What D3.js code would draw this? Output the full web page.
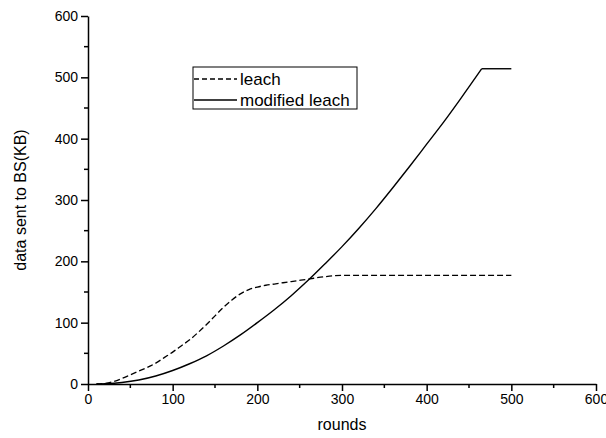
<!DOCTYPE html>
<html>
<head>
<meta charset="utf-8">
<script src="https://cdn.jsdelivr.net/npm/d3@7"></script>
<style>
  body { margin: 0; background: #fff; }
  svg { font-family: "Liberation Sans", Arial, sans-serif; }
</style>
</head>
<body>
<div id="chart"></div>
<script>
// data
const leachRounds = [10, 20, 30, 40, 50, 60, 70, 80, 90, 100, 110, 120, 130, 140, 150, 160, 170, 180, 190, 200, 210, 220, 240, 260, 280, 300, 500];
const leachData   = [0, 1, 4, 9, 15, 21, 27, 34, 43, 52, 62, 72, 84, 97, 111, 125, 137, 147, 154, 158, 161, 163, 167, 171, 175, 177, 177];

const modRounds = [10, 20, 40, 60, 80, 100, 120, 140, 160, 180, 200, 220, 240, 260, 280, 300, 320, 340, 360, 380, 400, 420, 440, 465, 500];
const modData   = [0, 0.5, 2.5, 6.5, 13, 22, 33, 46, 62, 80, 100, 121, 144, 169, 196, 224, 254, 286, 320, 355, 391, 427, 465, 514, 514];

const xTicks = [0, 100, 200, 300, 400, 500, 600];
const yTicks = [0, 100, 200, 300, 400, 500, 600];
const legendNames = ["leach", "modified leach"];

const width = 606, height = 438;
const margin = { top: 16, right: 10, bottom: 54, left: 88 };

const svg = d3.select("#chart").append("svg")
  .attr("width", width)
  .attr("height", height);

const x = d3.scaleLinear().domain([0, 600]).range([margin.left, 596]);
const y = d3.scaleLinear().domain([0, 600]).range([384, margin.top]);

// axes with major + minor ticks
function drawAxis(g, axisFn, scale, major) {
  const minor = d3.range(50, 600, 100);
  g.call(axisFn(scale).tickValues(major).tickSizeInner(7).tickSizeOuter(0).tickPadding(3));
  g.call(a => a.selectAll(".tick text").attr("font-size", 14).attr("fill", "#000").attr("font-family", "Liberation Sans, Arial, sans-serif"));
  g.select(".domain").attr("stroke-width", 1.5);
  g.selectAll(".tick line").attr("stroke-width", 1.5);
  return minor;
}

const xg = svg.append("g").attr("transform", `translate(0,${y(0)})`);
drawAxis(xg, d3.axisBottom, x, xTicks).forEach(v => {
  xg.append("line").attr("x1", x(v)).attr("x2", x(v)).attr("y1", 0).attr("y2", 4)
    .attr("stroke", "#000").attr("stroke-width", 1.5);
});

const yg = svg.append("g").attr("transform", `translate(${x(0)},0)`);
drawAxis(yg, d3.axisLeft, y, yTicks).forEach(v => {
  yg.append("line").attr("x1", 0).attr("x2", -4).attr("y1", y(v)).attr("y2", y(v))
    .attr("stroke", "#000").attr("stroke-width", 1.5);
});

// axis titles
svg.append("text")
  .attr("x", (x(0) + x(600)) / 2)
  .attr("y", 430)
  .attr("text-anchor", "middle")
  .attr("font-size", 16)
  .text("rounds");

svg.append("text")
  .attr("transform", `translate(26,${(y(0) + y(600)) / 2}) rotate(-90)`)
  .attr("text-anchor", "middle")
  .attr("font-size", 16)
  .text("data sent to BS(KB)");

// lines: smooth rise, sharp corner where the curve levels off
const smooth = d3.line().x(d => x(d[0])).y(d => y(d[1])).curve(d3.curveMonotoneX);
const straight = d3.line().x(d => x(d[0])).y(d => y(d[1]));

const leachPts = d3.zip(leachRounds, leachData);
svg.append("path")
  .datum(leachPts)
  .attr("d", smooth)
  .attr("fill", "none")
  .attr("stroke", "#000")
  .attr("stroke-width", 1.3)
  .attr("stroke-dasharray", "6,3");

const modPts = d3.zip(modRounds, modData);
const knee = modRounds.indexOf(465);
svg.append("path")
  .datum(modPts.slice(0, knee + 1))
  .attr("d", smooth)
  .attr("fill", "none")
  .attr("stroke", "#000")
  .attr("stroke-width", 1.4);
svg.append("path")
  .datum(modPts.slice(knee))
  .attr("d", straight)
  .attr("fill", "none")
  .attr("stroke", "#000")
  .attr("stroke-width", 1.4);

// legend
const legend = svg.append("g").attr("transform", "translate(193,67)");
legend.append("rect")
  .attr("width", 164).attr("height", 42)
  .attr("fill", "#fff").attr("stroke", "#000").attr("stroke-width", 1);

legendNames.forEach((name, i) => {
  const row = legend.append("g").attr("transform", `translate(0,${12 + i * 21})`);
  row.append("line")
    .attr("x1", 1).attr("x2", 44).attr("y1", 0).attr("y2", 0)
    .attr("stroke", "#000").attr("stroke-width", 1.3)
    .attr("stroke-dasharray", i === 0 ? "5,3" : null);
  row.append("text")
    .attr("x", 47).attr("y", 6)
    .attr("font-size", 17)
    .text(name);
});
</script>
</body>
</html>
